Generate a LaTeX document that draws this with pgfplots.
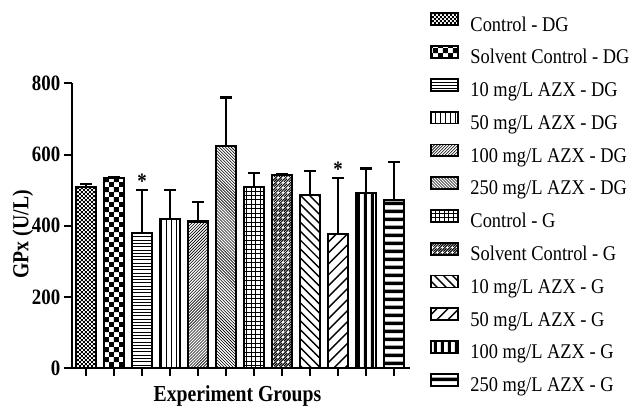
\documentclass[border=0pt]{standalone}
\usepackage{fontspec}
\setmainfont{Liberation Serif}[FakeStretch=0.86]
\newfontfamily\legfont{Liberation Serif}[FakeStretch=0.88]
\usepackage{pgfplots}
\pgfplotsset{compat=1.18}
\usetikzlibrary{patterns}

% bar fill patterns
\pgfdeclarepatternformonly{finechecker}{\pgfpointorigin}{\pgfqpoint{4pt}{4pt}}{\pgfqpoint{4pt}{4pt}}{%
  \pgfpathrectangle{\pgfpointorigin}{\pgfqpoint{2pt}{2pt}}%
  \pgfpathrectangle{\pgfqpoint{2pt}{2pt}}{\pgfqpoint{2pt}{2pt}}%
  \pgfusepath{fill}}
\pgfdeclarepatternformonly{bigchecker}{\pgfpointorigin}{\pgfqpoint{10pt}{10pt}}{\pgfqpoint{10pt}{10pt}}{%
  \pgfpathrectangle{\pgfpointorigin}{\pgfqpoint{5pt}{5pt}}%
  \pgfpathrectangle{\pgfqpoint{5pt}{5pt}}{\pgfqpoint{5pt}{5pt}}%
  \pgfusepath{fill}}
\pgfdeclarepatternformonly{hthin}{\pgfqpoint{-1pt}{0pt}}{\pgfqpoint{4.3pt}{3.3pt}}{\pgfqpoint{3.3pt}{3.3pt}}{%
  \pgfsetlinewidth{0.6pt}%
  \pgfpathmoveto{\pgfqpoint{-1pt}{1.65pt}}\pgfpathlineto{\pgfqpoint{4.3pt}{1.65pt}}%
  \pgfusepath{stroke}}
\pgfdeclarepatternformonly{vthin}{\pgfqpoint{0pt}{-1pt}}{\pgfqpoint{5pt}{6pt}}{\pgfqpoint{5pt}{5pt}}{%
  \pgfsetlinewidth{0.8pt}%
  \pgfpathmoveto{\pgfqpoint{2.5pt}{-1pt}}\pgfpathlineto{\pgfqpoint{2.5pt}{6pt}}%
  \pgfusepath{stroke}}
\pgfdeclarepatternformonly{nefine}{\pgfqpoint{-1pt}{-1pt}}{\pgfqpoint{4pt}{4pt}}{\pgfqpoint{3pt}{3pt}}{%
  \pgfsetlinewidth{0.6pt}%
  \pgfpathmoveto{\pgfqpoint{0pt}{0pt}}\pgfpathlineto{\pgfqpoint{3.1pt}{3.1pt}}%
  \pgfusepath{stroke}}
\pgfdeclarepatternformonly{nwfine}{\pgfqpoint{-1pt}{-1pt}}{\pgfqpoint{4pt}{4pt}}{\pgfqpoint{3pt}{3pt}}{%
  \pgfsetlinewidth{0.6pt}%
  \pgfpathmoveto{\pgfqpoint{0pt}{3pt}}\pgfpathlineto{\pgfqpoint{3.1pt}{-0.1pt}}%
  \pgfusepath{stroke}}
\pgfdeclarepatternformonly{gridfine}{\pgfqpoint{-1pt}{-1pt}}{\pgfqpoint{5.5pt}{5.5pt}}{\pgfqpoint{4.5pt}{4.5pt}}{%
  \pgfsetlinewidth{0.6pt}%
  \pgfpathmoveto{\pgfqpoint{0pt}{-1pt}}\pgfpathlineto{\pgfqpoint{0pt}{5.5pt}}%
  \pgfpathmoveto{\pgfqpoint{-1pt}{0pt}}\pgfpathlineto{\pgfqpoint{5.5pt}{0pt}}%
  \pgfusepath{stroke}}
\pgfdeclarepatternformonly{nedash}{\pgfqpoint{-1pt}{-1pt}}{\pgfqpoint{6pt}{6pt}}{\pgfqpoint{5pt}{5pt}}{%
  \pgfsetlinewidth{1pt}%
  \pgfpathmoveto{\pgfqpoint{0pt}{0pt}}\pgfpathlineto{\pgfqpoint{3.2pt}{3.2pt}}%
  \pgfpathmoveto{\pgfqpoint{2.5pt}{0pt}}\pgfpathlineto{\pgfqpoint{5.1pt}{2.6pt}}%
  \pgfpathmoveto{\pgfqpoint{0pt}{2.5pt}}\pgfpathlineto{\pgfqpoint{2.6pt}{5.1pt}}%
  \pgfusepath{stroke}}
\pgfdeclarepatternformonly{nwwide}{\pgfqpoint{-1pt}{-1pt}}{\pgfqpoint{10pt}{10pt}}{\pgfqpoint{9pt}{9pt}}{%
  \pgfsetlinewidth{1.4pt}%
  \pgfpathmoveto{\pgfqpoint{0pt}{9pt}}\pgfpathlineto{\pgfqpoint{9.1pt}{-0.1pt}}%
  \pgfusepath{stroke}}
\pgfdeclarepatternformonly{newide}{\pgfqpoint{-1pt}{-1pt}}{\pgfqpoint{12pt}{12pt}}{\pgfqpoint{11pt}{11pt}}{%
  \pgfsetlinewidth{1.4pt}%
  \pgfpathmoveto{\pgfqpoint{0pt}{0pt}}\pgfpathlineto{\pgfqpoint{11.1pt}{11.1pt}}%
  \pgfusepath{stroke}}
\pgfdeclarepatternformonly{vthick}{\pgfpointorigin}{\pgfqpoint{7pt}{7pt}}{\pgfqpoint{7pt}{7pt}}{%
  \pgfpathrectangle{\pgfqpoint{2pt}{0pt}}{\pgfqpoint{3pt}{7pt}}%
  \pgfusepath{fill}}
\pgfdeclarepatternformonly{hthick}{\pgfpointorigin}{\pgfqpoint{8pt}{8pt}}{\pgfqpoint{8pt}{8pt}}{%
  \pgfpathrectangle{\pgfqpoint{0pt}{2pt}}{\pgfqpoint{8pt}{3.5pt}}%
  \pgfusepath{fill}}

\begin{document}
\begin{tikzpicture}
\useasboundingbox (-71.7bp,-37.7bp) rectangle (565.3bp,368.3bp);
\begin{axis}[
  at={(0,0)}, anchor=south west,
  scale only axis,
  width=338.3bp, height=285bp,
  ybar,
  xmin=-0.51, xmax=11.57,
  ymin=0, ymax=800,
  axis lines=left,
  axis line style={-, line width=2pt},
  xtick={0,...,11}, xticklabels={},
  ytick={0,200,...,800},
  tick align=outside,
  major tick length=8pt,
  tick style={line width=2pt, black},
  /pgf/number format/assume math mode=true,
  tick label style={font=\fontsize{22}{24}\selectfont\bfseries},
  ylabel={\bfseries GPx (U/L)},
  xlabel={\bfseries Experiment Groups},
  label style={font=\fontsize{23}{25}\selectfont},
  ylabel style={at={(axis description cs:-0.144,0.47)}, anchor=center},
  xlabel style={at={(axis description cs:0.49,-0.097)}, anchor=center},
  clip=false,
  legend cell align=left,
  legend style={at={(1.058,1.2495)}, anchor=north west, draw=none, fill=none,
    font=\legfont\fontsize{21}{24}\selectfont, inner sep=0pt, row sep=10.2pt, column sep=12pt,
    nodes={inner sep=0pt, text height=14pt, text depth=4pt}},
  mybar/.style={draw=black, line width=2.2pt, bar width=20.2bp, bar shift=0pt,
    pattern color=black,
    error bars/.cd, y dir=plus, y explicit,
    error bar style={line width=2.2pt, black},
    error mark options={rotate=90, line width=2.2pt, mark size=6pt, black},
    /pgfplots/.cd,
    legend image code/.code={\draw[##1, line width=1.8pt] (0pt,0.8pt) rectangle (27pt,12.8pt);}},
]
\addplot[mybar, pattern=finechecker] coordinates {(0,510) +- (0,7)};
\addplot[mybar, pattern=bigchecker] coordinates {(1,535) +- (0,2)};
\addplot[mybar, pattern=hthin] coordinates {(2,380) +- (0,120)};
\addplot[mybar, pattern=vthin] coordinates {(3,420) +- (0,80)};
\addplot[mybar, pattern=nefine] coordinates {(4,412) +- (0,54)};
\addplot[mybar, pattern=nwfine] coordinates {(5,625) +- (0,135)};
\addplot[mybar, pattern=gridfine] coordinates {(6,508) +- (0,41)};
\addplot[mybar, pattern=nedash] coordinates {(7,543) +- (0,3)};
\addplot[mybar, pattern=nwwide] coordinates {(8,486) +- (0,67)};
\addplot[mybar, pattern=newide] coordinates {(9,377) +- (0,157)};
\addplot[mybar, pattern=vthick] coordinates {(10,491) +- (0,70)};
\addplot[mybar, pattern=hthick] coordinates {(11,472) +- (0,108)};
% significance stars
\addplot[forget plot, draw=none, fill=none, bar shift=0pt, bar width=0pt,
  nodes near coords={\bfseries *},
  every node near coord/.style={anchor=south, font=\fontsize{22}{24}\selectfont, inner sep=1pt}]
  coordinates {(2,500) (9,534)};
\legend{Control - DG, Solvent Control - DG, 10 mg/L AZX - DG, 50 mg/L AZX - DG,
  100 mg/L AZX - DG, 250 mg/L AZX - DG, Control - G, Solvent Control - G,
  10 mg/L AZX - G, 50 mg/L AZX - G, 100 mg/L AZX - G, 250 mg/L AZX - G}
\end{axis}
\end{tikzpicture}
\end{document}
